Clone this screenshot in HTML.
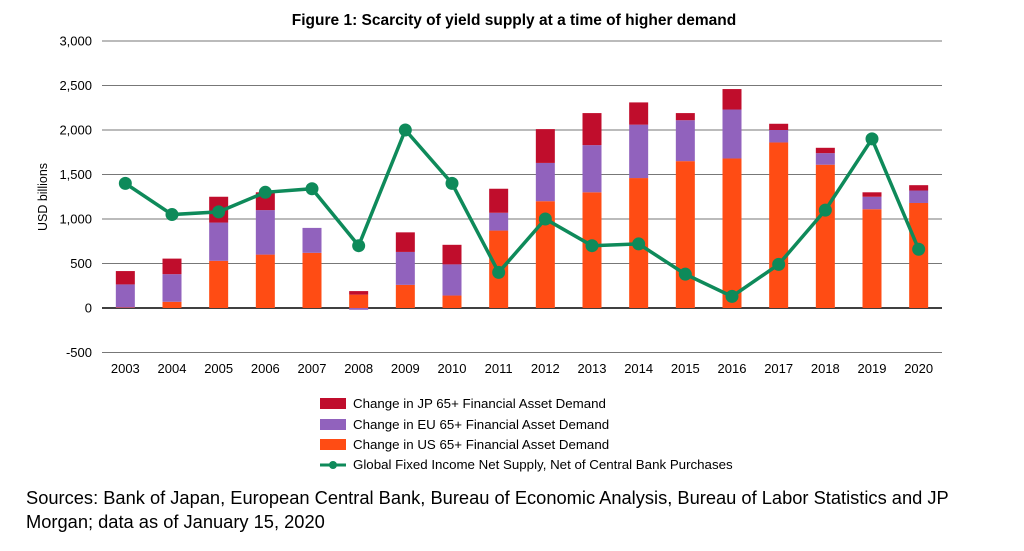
<!DOCTYPE html>
<html><head><meta charset="utf-8"><style>
body{margin:0;background:#fff;font-family:"Liberation Sans",sans-serif;}
svg text{font-family:"Liberation Sans",sans-serif;}
</style></head><body>
<svg width="1024" height="546">
<text x="514" y="25" text-anchor="middle" font-size="15.5" font-weight="bold" fill="#000">Figure 1: Scarcity of yield supply at a time of higher demand</text>
<g id="grid"></g><g id="bars"></g><g id="line"></g><g id="xlab"></g>
<text transform="translate(47,197) rotate(-90)" text-anchor="middle" font-size="12.5" fill="#000">USD billions</text>
<g font-size="13.3" fill="#000">
<rect x="320" y="398" width="26" height="11" fill="#c00d2c"/>
<text x="353" y="408">Change in JP 65+ Financial Asset Demand</text>
<rect x="320" y="419" width="26" height="11" fill="#9162bd"/>
<text x="353" y="429">Change in EU 65+ Financial Asset Demand</text>
<rect x="320" y="439" width="26" height="11" fill="#ff4c14"/>
<text x="353" y="449">Change in US 65+ Financial Asset Demand</text>
<line x1="320" y1="465" x2="346" y2="465" stroke="#0e8a5a" stroke-width="3"/>
<circle cx="333" cy="465" r="4" fill="#0e8a5a"/>
<text x="353" y="469">Global Fixed Income Net Supply, Net of Central Bank Purchases</text>
</g>
<text x="26" y="504" font-size="18.3" fill="#000">Sources: Bank of Japan, European Central Bank, Bureau of Economic Analysis, Bureau of Labor Statistics and JP</text>
<text x="26" y="528" font-size="18.3" fill="#000">Morgan; data as of January 15, 2020</text>
</svg>
<script>
const years=["2003","2004","2005","2006","2007","2008","2009","2010","2011","2012","2013","2014","2015","2016","2017","2018","2019","2020"];
const usVals=[5,70,530,600,620,150,260,140,870,1200,1300,1460,1650,1680,1860,1610,1110,1180];
const euVals=[260,310,430,500,280,-20,370,350,200,430,530,600,460,550,140,130,140,140];
const jpVals=[150,175,290,200,0,40,220,220,270,380,360,250,80,230,70,60,50,60];
const supplyVals=[1400,1050,1080,1300,1340,700,2000,1400,400,1000,700,720,380,130,490,1100,1900,660];
const yTicks=[-500,0,500,1000,1500,2000,2500,3000];
const NS="http://www.w3.org/2000/svg";
const x0=102,x1=942,band=(x1-x0)/years.length;
const y=v=>308-v*(267/3000);
const xc=i=>x0+band*(i+0.5);
function mk(t,a,p){const e=document.createElementNS(NS,t);for(const k in a)e.setAttribute(k,a[k]);document.getElementById(p).appendChild(e);return e;}
yTicks.forEach(t=>{
 const l=mk('line',{x1:x0,x2:x1,y1:y(t),y2:y(t),stroke:t===0?'#000':'#777','stroke-width':t===0?1.5:1},'grid');
 
 
 const tx=mk('text',{x:92,y:y(t)+4.5,'text-anchor':'end','font-size':13},'grid');
 tx.textContent=t.toLocaleString('en-US');
 
 
});
const bw=19;
years.forEach((yr,i)=>{
 const cx=xc(i);
 let pos=0,neg=0;
 [[usVals[i],'#ff4c14','bar-us'],[euVals[i],'#9162bd','bar-eu'],[jpVals[i],'#c00d2c','bar-jp']].forEach(([v,c,n])=>{
  let a,b;
  if(v>=0){a=pos;b=pos+v;pos=b;}else{a=neg;b=neg+v;neg=b;}
  const r=mk('rect',{x:cx-bw/2,y:Math.min(y(a),y(b)),width:bw,height:Math.abs(y(a)-y(b)),fill:c},'bars');
  
  
 });
 const tx=mk('text',{x:cx,y:373,'text-anchor':'middle','font-size':13},'xlab');
 tx.textContent=yr;
 
 
});
const pl=mk('polyline',{points:supplyVals.map((v,i)=>xc(i)+','+y(v)).join(' '),fill:'none',stroke:'#0e8a5a','stroke-width':3.5},'line');


supplyVals.forEach((v,i)=>{
 const c=mk('circle',{cx:xc(i),cy:y(v),r:6.5,fill:'#0e8a5a'},'line');
 
 
});
</script>
</body></html>
